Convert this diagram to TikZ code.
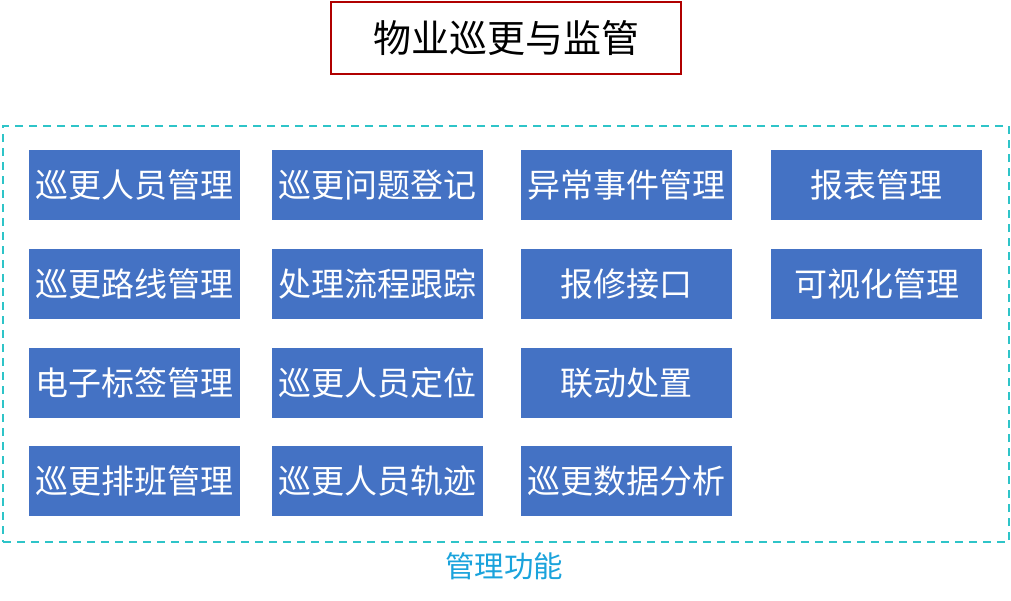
\documentclass[tikz,border=0pt]{standalone}
\usepackage{fontspec}
\setmainfont{Noto Sans CJK SC}
\definecolor{boxblue}{HTML}{4472C4}
\definecolor{titlered}{HTML}{B00000}
\definecolor{dashteal}{HTML}{2EC4C8}
\definecolor{labelblue}{HTML}{1AA3DC}
\begin{document}
\begin{tikzpicture}[x=1pt,y=-1pt,
  fbox/.style={fill=boxblue,draw=none,minimum width=211pt,minimum height=70pt,inner sep=0pt,text=white,font=\fontsize{33}{33}\selectfont,anchor=north west},
]
\useasboundingbox (0,0) rectangle (1011,600);
\node[draw=titlered,line width=2pt,minimum width=350pt,minimum height=72pt,inner sep=0pt,anchor=north west,font=\fontsize{38}{38}\selectfont] (title) at (330,1) {物业巡更与监管};
\node[draw=dashteal,dash pattern=on 8pt off 6pt,line width=2.2pt,minimum width=1006pt,minimum height=416pt,inner sep=0pt,anchor=north west] (frame) at (2,125) {};
\node[text=labelblue,font=\fontsize{29.5}{29.5}\selectfont] (lbl) at (504,566) {管理功能};
% column 1
\node[fbox] (a1) at (29,150) {巡更人员管理};
\node[fbox] (a2) at (29,249) {巡更路线管理};
\node[fbox] (a3) at (29,348) {电子标签管理};
\node[fbox] (a4) at (29,446) {巡更排班管理};
% column 2
\node[fbox] (b1) at (272,150) {巡更问题登记};
\node[fbox] (b2) at (272,249) {处理流程跟踪};
\node[fbox] (b3) at (272,348) {巡更人员定位};
\node[fbox] (b4) at (272,446) {巡更人员轨迹};
% column 3
\node[fbox] (c1) at (521,150) {异常事件管理};
\node[fbox] (c2) at (521,249) {报修接口};
\node[fbox] (c3) at (521,348) {联动处置};
\node[fbox] (c4) at (521,446) {巡更数据分析};
% column 4
\node[fbox] (d1) at (771,150) {报表管理};
\node[fbox] (d2) at (771,249) {可视化管理};
\end{tikzpicture}
\end{document}
